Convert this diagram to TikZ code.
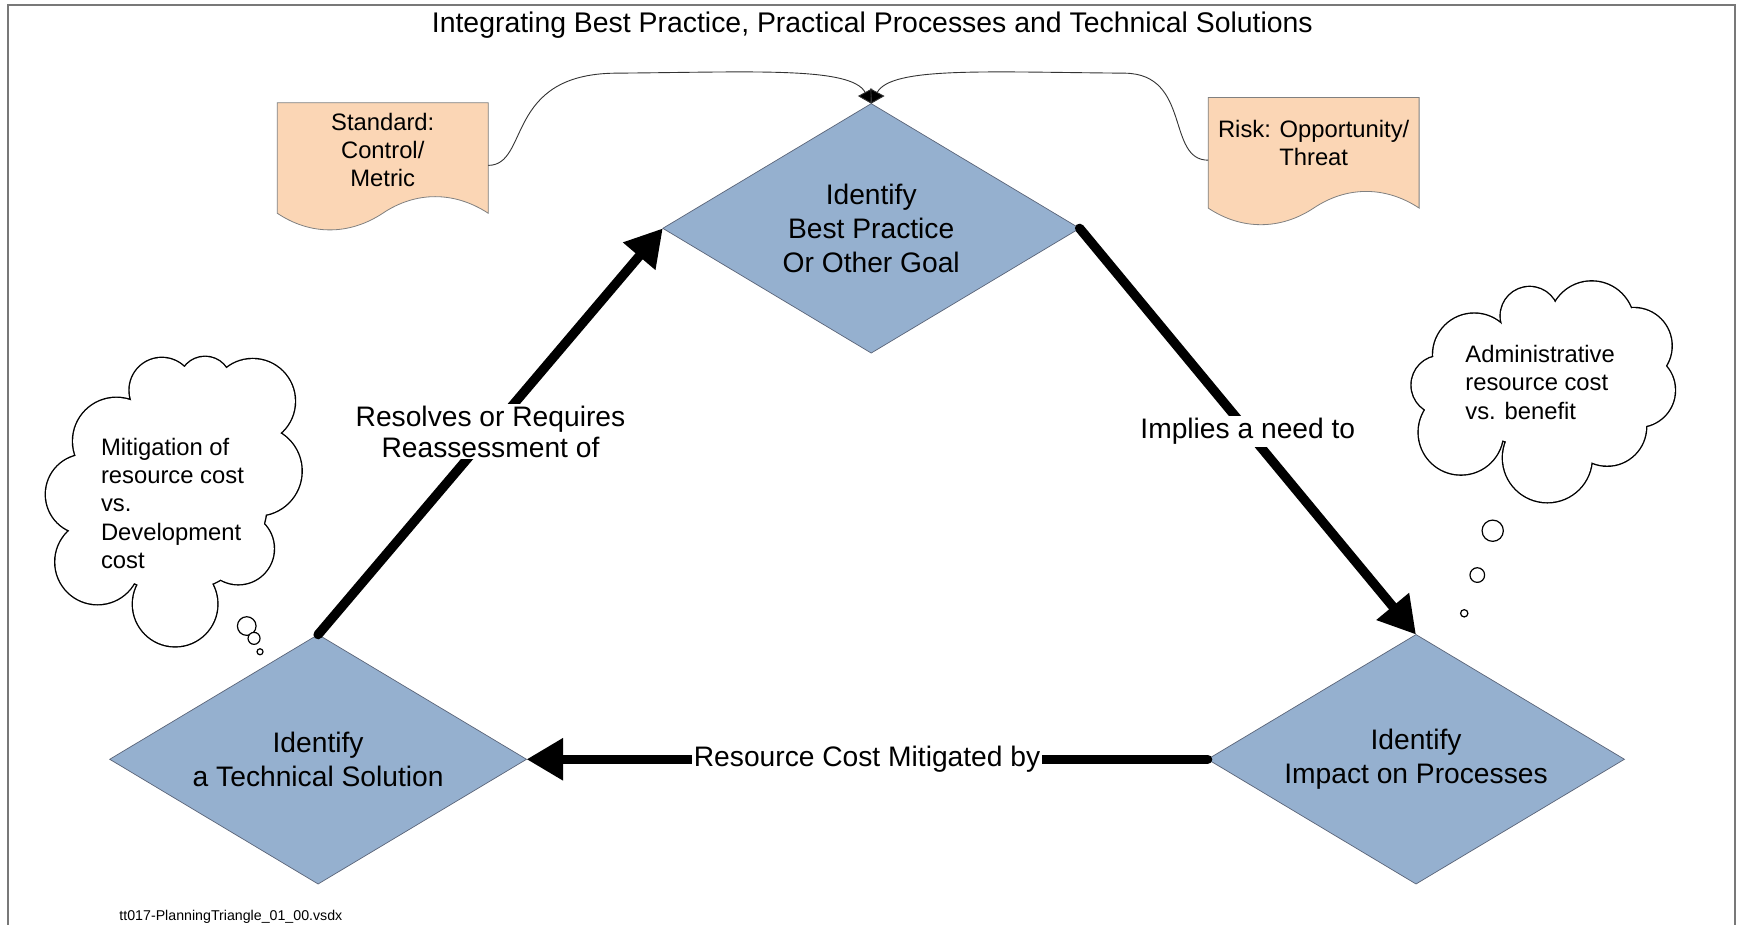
\documentclass[tikz,border=0pt]{standalone}
\usepackage{fontspec}
\setmainfont{Liberation Sans}
\usetikzlibrary{shapes.geometric,arrows.meta}
\definecolor{dfill}{RGB}{149,176,207}
\definecolor{dline}{RGB}{90,100,120}
\definecolor{pfill}{RGB}{251,214,181}
\definecolor{pline}{RGB}{128,128,128}
\definecolor{frcol}{RGB}{120,120,120}
\newcommand\lcloudparts{
 (77.3,446) circle[radius=35.8]
 (105,398) circle[radius=39]
 (146,352) circle[radius=29]
 (185,345) circle[radius=23]
 (228,362) circle[radius=38]
 (232,425) circle[radius=40]
 (215,495) circle[radius=32]
 (158,545) circle[radius=38]
 (88,507) circle[radius=38]
 (185,385) circle[radius=30]
 (157,450) circle[radius=84]
}
\newcommand\rcloudparts{
 (1299.8,347.4) circle[radius=26.2]
 (1330,320) circle[radius=37]
 (1380,285) circle[radius=26]
 (1436,292) circle[radius=38]
 (1474,312) circle[radius=34]
 (1478,352) circle[radius=33]
 (1450,385) circle[radius=35]
 (1396,413) circle[radius=40]
 (1318,390) circle[radius=38]
 (1392,350) ellipse[x radius=88, y radius=52]
}
\begin{document}
\begin{tikzpicture}[x=0.5542pt,y=-0.5542pt,
  diam/.style={diamond, shape aspect=1.671, minimum width=208.4pt, minimum height=124.7pt, inner sep=0pt, outer sep=0pt, fill=dfill, draw=dline, line width=0.35pt, align=center, font=\fontsize{14.1}{17.2}\selectfont},
  bigarrow/.style={line width=4.7pt, line cap=round, -{Triangle[length=18.3pt,width=20pt]}},
  elabel/.style={fill=white, inner sep=1pt, align=center, font=\fontsize{14.1}{15.5}\selectfont},
  doctext/.style={align=center, font=\fontsize{11.9}{14.1}\selectfont, inner sep=0pt},
  docshape/.style={fill=pfill, draw=pline, line width=0.4pt},
  feed/.style={draw=black!80, line width=0.45pt, -{Triangle[length=6.5pt,width=8pt,fill=black]}},
  cloudedge/.style={draw=black, line width=1.4pt},
  bubble/.style={draw=black, line width=0.6pt, fill=white},
  cloudtext/.style={align=left, font=\fontsize{11.9}{14.1}\selectfont, inner sep=0pt, anchor=west},
]
\useasboundingbox (0,0) rectangle (1568,834);
\fill[white] (0,0) rectangle (1568,834);
% frame
\draw[frcol, line width=1pt] (6.8,840) -- (6.8,4.5) -- (1565,4.5) -- (1565,840);

% title
\node[font=\fontsize{14.2}{17}\selectfont] (title) at (787,23) {Integrating Best Practice, Practical Processes and Technical Solutions};

% left cloud
\path[cloudedge] \lcloudparts;
\fill[white] \lcloudparts;
\node[cloudtext] (lct) at (90.8,454.1) {Mitigation of\\resource cost\\vs.\\Development\\cost};
\draw[bubble] (222.6,564.8) circle[radius=4.66pt];
\draw[bubble] (229.2,575.9) circle[radius=3.0pt];
\draw[bubble] (234.6,588) circle[radius=1.5pt];

% right cloud
\path[cloudedge] \rcloudparts;
\fill[white] \rcloudparts;
\node[cloudtext] (rct) at (1321.7,344.9) {Administrative\\resource cost\\vs. benefit};
\draw[bubble] (1346.7,478.8) circle[radius=5.32pt];
\draw[bubble] (1332.8,518.8) circle[radius=3.66pt];
\draw[bubble] (1321,553.3) circle[radius=1.83pt];

% documents
\path[docshape] (250.2,92.7) -- (440.5,92.7) -- (440.5,192.4) .. controls (410,172.4) and (375,172.4) .. (345.3,192.4) .. controls (315,212.4) and (280,212.4) .. (250.2,192.4) -- cycle;
\node[doctext] (stdt) at (345.3,135.3) {Standard:\\Control/\\Metric};
\coordinate (stdout) at (440.5,149.2);

\path[docshape] (1090,88) -- (1280.3,88) -- (1280.3,187.7) .. controls (1250,167.7) and (1215,167.7) .. (1185.2,187.7) .. controls (1155,207.7) and (1120,207.7) .. (1090,187.7) -- cycle;
\node[doctext] (rkt) at (1185.2,129.3) {Risk: Opportunity/\\Threat};
\coordinate (rkout) at (1090,144.5);

% diamonds
\node[diam] (tb) at (786,206) {Identify\\Best Practice\\Or Other Goal};
\node[diam] (ld) at (287,685) {Identify\\a Technical Solution};
\node[diam] (rd) at (1277.5,685) {Identify\\Impact on Processes};

% feeder connectors
\draw[feed] (stdout) .. controls (478,149) and (455,67) .. (555,66) .. controls (680,65) and (768,60) .. (tb.north);
\draw[feed] (rkout) .. controls (1052,144.5) and (1075,67) .. (1015,66) .. controls (890,65) and (804,60) .. (tb.north);

% main arrows
\draw[bigarrow] (ld.north) -- node[elabel] {Resolves or Requires\\Reassessment of} (tb.west);
\draw[bigarrow] (tb.east) -- node[elabel] {Implies a need to} (rd.north);
\draw[bigarrow] (rd.west) -- node[elabel] {Resource Cost Mitigated by} (ld.east);

% file name
\node[font=\fontsize{7.1}{8.5}\selectfont, anchor=west, inner sep=0pt] (fn) at (107.4,827) {tt017-PlanningTriangle\_01\_00.vsdx};
\end{tikzpicture}
\end{document}
